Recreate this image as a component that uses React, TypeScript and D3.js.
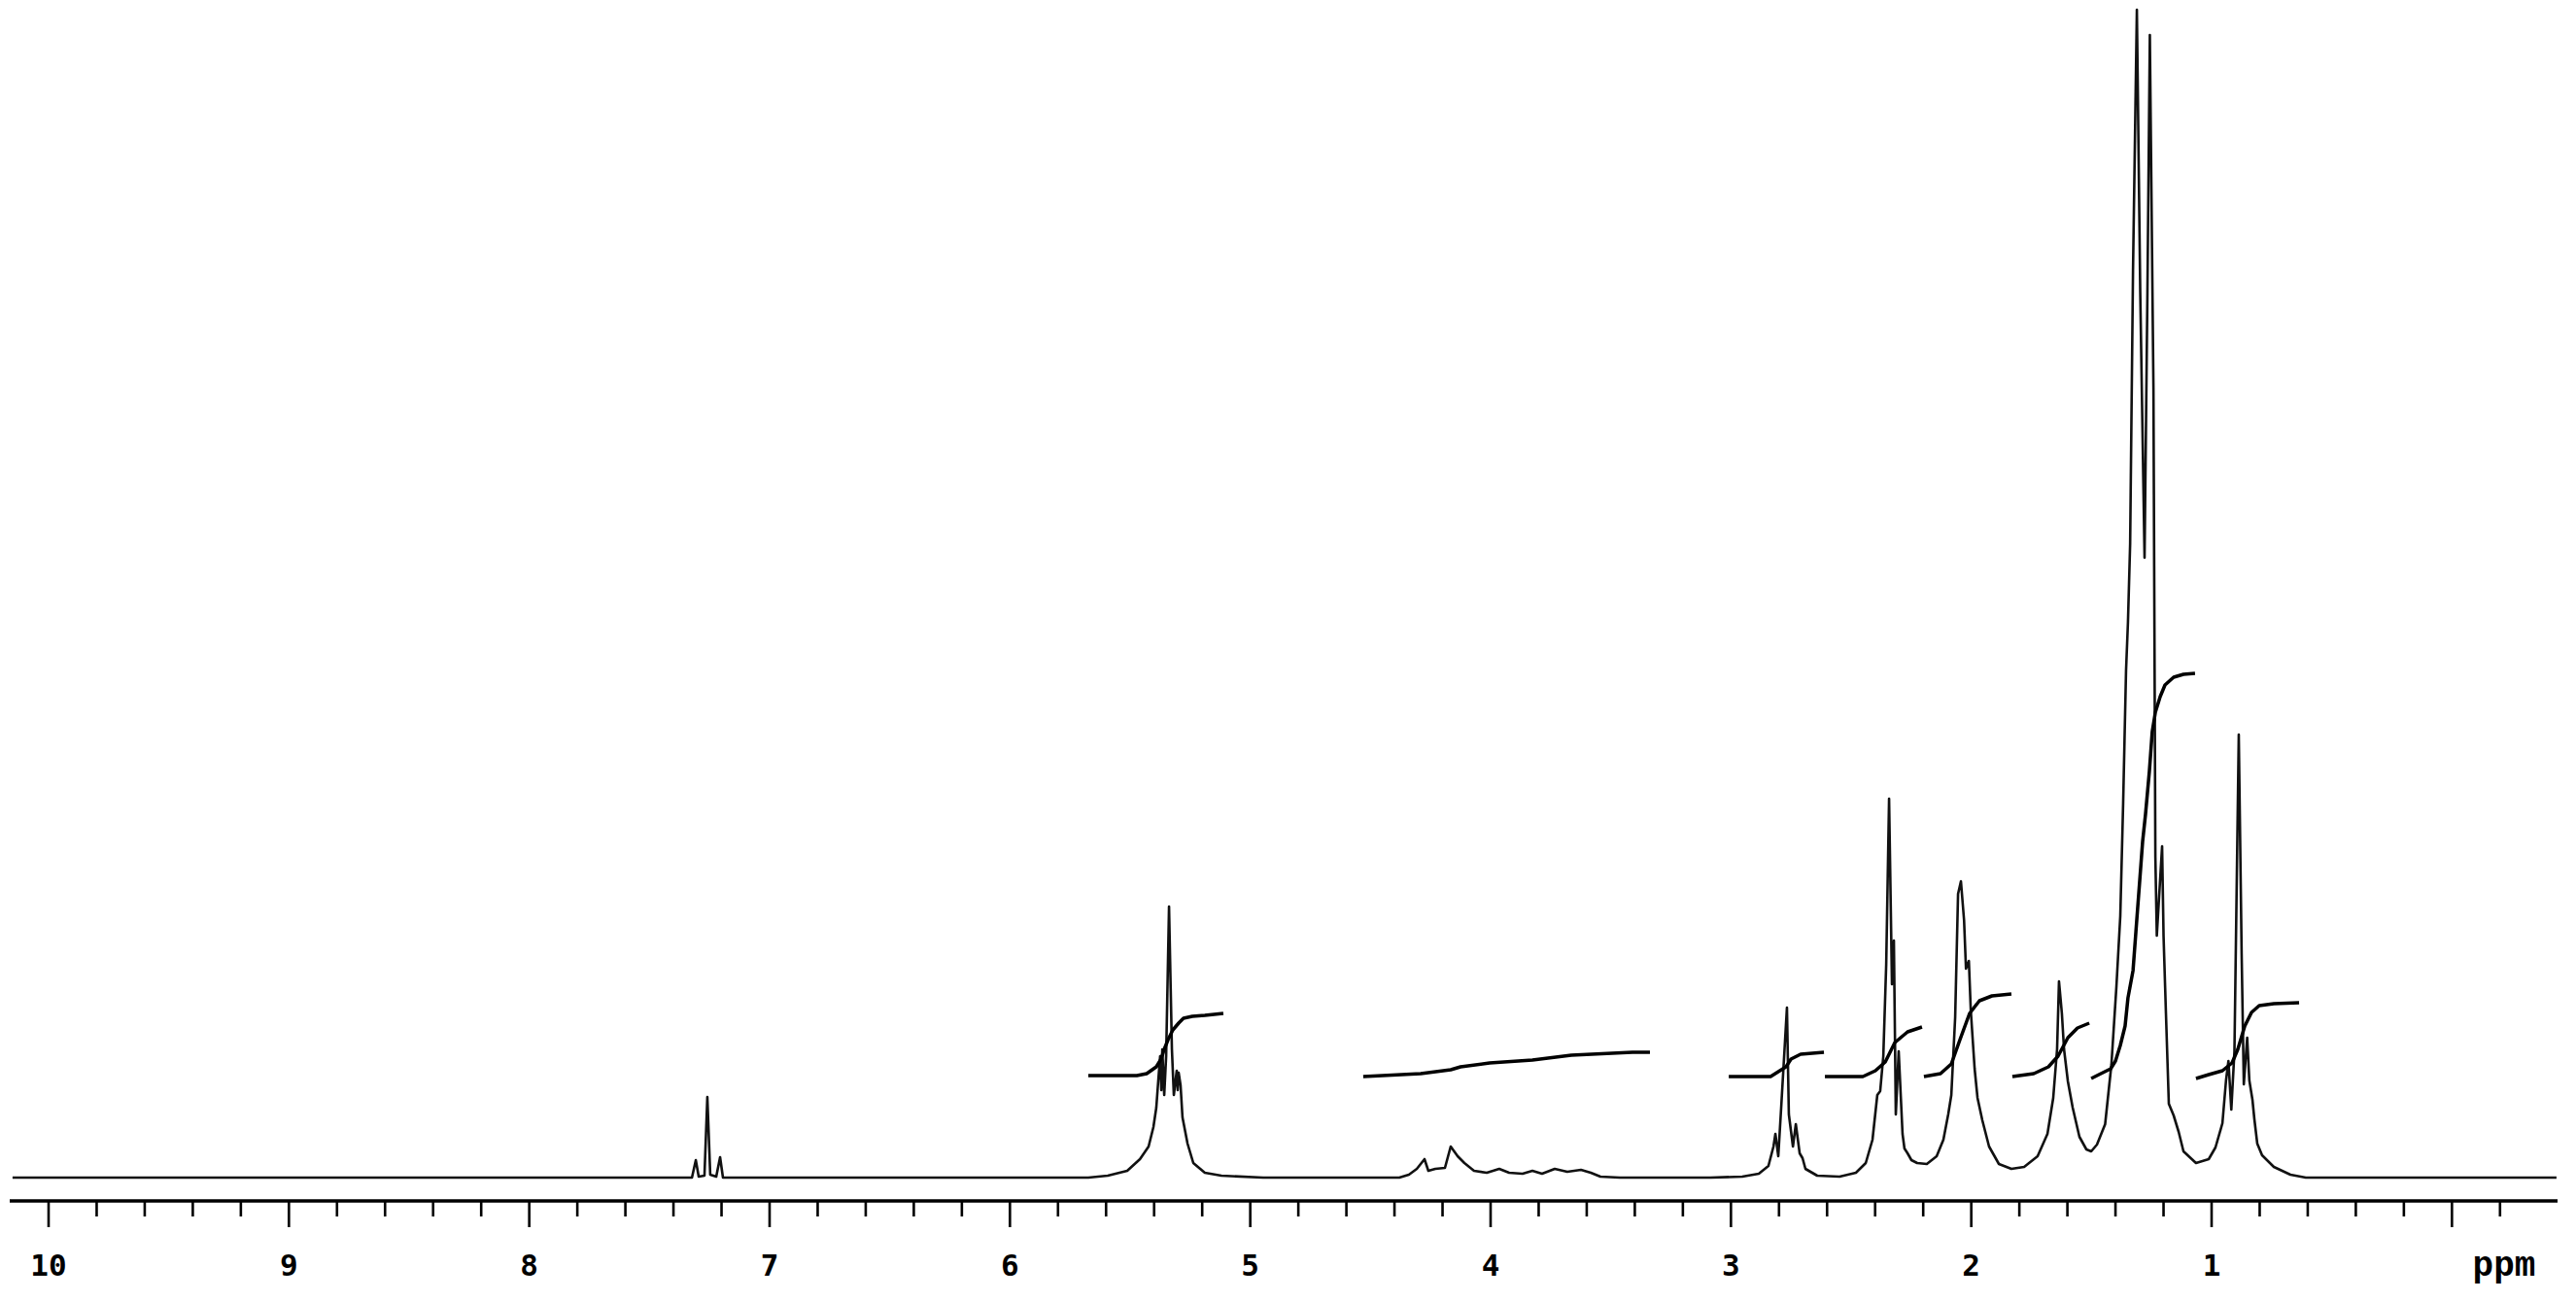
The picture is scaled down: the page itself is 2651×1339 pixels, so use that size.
import React from "react";
import * as d3 from "d3";

// 1H NMR spectrum: [ppm, intensity]
const spectrum: [number, number][] = [
  [10.15, 0], [7.372, 0], [7.323, 0], [7.307, 18], [7.295, 1], [7.271, 2], [7.259, 83], [7.247, 3], [7.222, 1], [7.206, 21], [7.194, 0], [7.129, 0],
  [5.674, 0], [5.593, 2], [5.512, 7], [5.459, 19], [5.423, 32], [5.403, 52], [5.391, 72], [5.383, 99], [5.375, 125], [5.37, 90], [5.366, 132], [5.358, 85], [5.35, 125], [5.338, 279], [5.326, 132], [5.318, 85], [5.306, 110], [5.302, 90], [5.298, 108], [5.29, 95], [5.282, 62], [5.261, 35], [5.237, 15], [5.189, 5], [5.12, 2], [4.946, 0],
  [4.38, 0], [4.34, 3], [4.307, 9], [4.275, 19], [4.259, 7], [4.23, 9], [4.19, 10], [4.166, 32], [4.137, 22], [4.109, 15], [4.069, 7], [4.016, 5], [3.964, 9], [3.923, 5], [3.867, 4], [3.826, 7], [3.786, 4], [3.733, 9], [3.681, 6], [3.624, 8], [3.583, 5], [3.543, 1], [3.462, 0],
  [3.086, 0], [2.953, 1], [2.884, 4], [2.844, 12], [2.823, 32], [2.815, 45], [2.803, 22], [2.791, 72], [2.767, 175], [2.759, 65], [2.742, 32], [2.73, 55], [2.714, 25], [2.702, 20], [2.69, 9], [2.641, 2], [2.548, 1], [2.48, 5], [2.439, 15], [2.411, 39], [2.391, 85], [2.379, 89], [2.366, 125], [2.354, 219], [2.342, 390], [2.33, 199], [2.322, 244], [2.314, 65], [2.302, 130], [2.286, 45], [2.278, 30], [2.265, 25], [2.249, 18], [2.225, 15], [2.185, 14], [2.144, 22], [2.116, 39], [2.096, 65], [2.083, 85], [2.067, 165], [2.055, 292], [2.043, 305], [2.03, 265], [2.022, 215], [2.01, 223], [2.002, 172], [1.986, 112], [1.974, 82], [1.954, 59], [1.926, 32], [1.885, 14], [1.833, 9], [1.78, 11], [1.724, 22], [1.683, 45], [1.659, 82], [1.643, 132], [1.635, 202], [1.623, 169], [1.614, 132], [1.598, 99], [1.578, 72], [1.55, 42], [1.521, 29], [1.501, 27], [1.477, 34], [1.443, 55], [1.417, 116], [1.396, 197], [1.38, 269], [1.368, 386], [1.356, 522], [1.348, 572], [1.339, 652], [1.327, 934], [1.311, 1202], [1.297, 912], [1.279, 638], [1.267, 912], [1.257, 1176], [1.242, 812], [1.234, 330], [1.228, 249], [1.206, 341], [1.2, 249], [1.19, 169], [1.178, 76], [1.158, 64], [1.137, 47], [1.117, 27], [1.065, 15], [1.012, 19], [0.984, 31], [0.955, 56], [0.94, 100], [0.93, 120], [0.918, 70], [0.905, 130], [0.887, 456], [0.875, 230], [0.866, 96], [0.852, 144], [0.843, 100], [0.83, 80], [0.822, 60], [0.81, 35], [0.79, 23], [0.741, 11], [0.672, 3], [0.608, 0], [-0.435, 0],
];

// integral traces: [ppm, level]
const integral534: [number, number][] = [[5.674, 105], [5.472, 105], [5.431, 107], [5.391, 114], [5.371, 122], [5.358, 132], [5.342, 142], [5.322, 152], [5.298, 159], [5.278, 164], [5.241, 166], [5.189, 167], [5.112, 169]];
const integral420: [number, number][] = [[4.53, 104], [4.291, 107], [4.166, 111], [4.125, 114], [4.004, 118], [3.826, 121], [3.664, 126], [3.41, 129], [3.337, 129]];
const integral277: [number, number][] = [[3.009, 104], [2.835, 104], [2.803, 109], [2.771, 114], [2.75, 122], [2.71, 127], [2.613, 129]];
const integral233: [number, number][] = [[2.609, 104], [2.451, 104], [2.399, 110], [2.358, 119], [2.318, 139], [2.265, 150], [2.205, 155]];
const integral203: [number, number][] = [[2.197, 104], [2.128, 107], [2.083, 117], [2.047, 142], [2.007, 169], [1.966, 182], [1.914, 187], [1.833, 189]];
const integral161: [number, number][] = [[1.829, 104], [1.74, 107], [1.679, 114], [1.639, 125], [1.598, 144], [1.558, 154], [1.509, 159]];
const integral130: [number, number][] = [[1.501, 102], [1.469, 106], [1.42, 112], [1.4, 120], [1.38, 136], [1.36, 156], [1.348, 185], [1.327, 213], [1.315, 253], [1.299, 306], [1.287, 346], [1.275, 374], [1.259, 418], [1.247, 459], [1.234, 479], [1.214, 495], [1.194, 507], [1.158, 515], [1.117, 518], [1.069, 519]];
const integral088: [number, number][] = [[1.065, 102], [1.012, 106], [0.955, 110], [0.915, 118], [0.891, 132], [0.862, 156], [0.834, 170], [0.802, 177], [0.741, 179], [0.636, 180]];
const integrals = [integral534, integral420, integral277, integral233, integral203, integral161, integral130, integral088];

const majorTicks = [10, 9, 8, 7, 6, 5, 4, 3, 2, 1, 0];
const tickLabels = ["10", "9", "8", "7", "6", "5", "4", "3", "2", "1", ""];
const minorTicks = d3.range(0, 52).map((i) => +(10 - i * 0.2).toFixed(1)).filter((v) => Math.abs(v - Math.round(v)) > 0.01);
const unitLabel = "ppm";

export default function App() {
  const W = 2651, H = 1339;
  const x = d3.scaleLinear().domain([10, 1]).range([50, 2276]);
  const y = d3.scaleLinear().domain([0, 1200]).range([1212, 12]);
  const line = d3.line<[number, number]>().x((d) => x(d[0])).y((d) => y(d[1])).curve(d3.curveLinear);
  const axisY = 1236;
  return (
    <svg width={W} height={H} style={{ position: "absolute", left: 0, top: 0, background: "#fff" }}>
      <rect x={0} y={0} width={W} height={H} fill="#fff" />
      <path d={line(spectrum) || ""} fill="none" stroke="#111" strokeWidth={2.6} strokeLinejoin="round" />
      {integrals.map((d, i) => (
        <path key={i} d={line(d) || ""} fill="none" stroke="#000" strokeWidth={3.5} strokeLinejoin="round" />
      ))}
      <line x1={10} x2={2632} y1={axisY} y2={axisY} stroke="#000" strokeWidth={3.5} />
      {majorTicks.map((t) => (
        <line key={"M" + t} x1={x(t)} x2={x(t)} y1={axisY} y2={axisY + 27} stroke="#000" strokeWidth={2.6} />
      ))}
      {minorTicks.map((t) => (
        <line key={"m" + t} x1={x(t)} x2={x(t)} y1={axisY} y2={axisY + 16} stroke="#000" strokeWidth={2.6} />
      ))}
      {majorTicks.map((t, i) => (
        <text key={"L" + t} x={x(t)} y={1313} textAnchor="middle" fontFamily="DejaVu Sans Mono" fontWeight="bold" fontSize={31} fill="#000">
          {tickLabels[i]}
        </text>
      ))}
      <text x={2577} y={1313} textAnchor="middle" fontFamily="Liberation Mono" fontWeight="bold" fontSize={36} fill="#000">
        {unitLabel}
      </text>
    </svg>
  );
}
